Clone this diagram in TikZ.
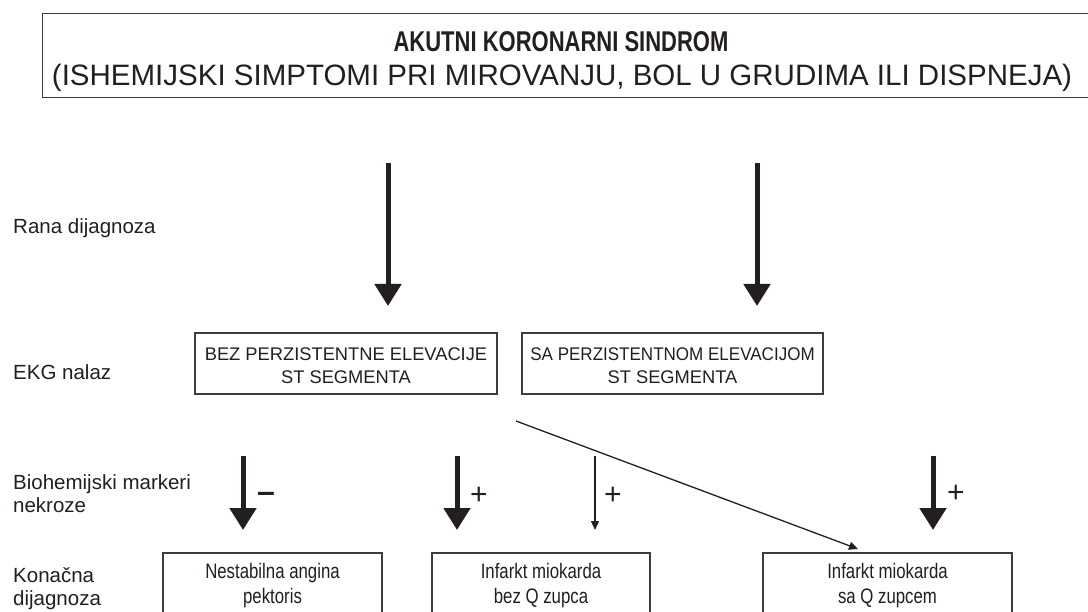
\documentclass[tikz,border=0pt]{standalone}
\usepackage{fontspec}
\setmainfont{Liberation Sans}
\usetikzlibrary{arrows.meta}
\definecolor{ink}{HTML}{231F20}
\definecolor{edge}{HTML}{3C3C3C}
\newcommand{\narrow}[1]{\scalebox{0.8}[1]{#1}}
\begin{document}
\begin{tikzpicture}[x=1pt,y=-1pt,
  box/.style={draw=edge,line width=1.3pt,inner sep=0pt,align=center,text=ink},
  ekgbox/.style={box,minimum width=302pt,minimum height=61pt},
  ekgtext/.style={text=ink,align=center,inner sep=0pt,font=\fontsize{18.3}{23}\selectfont},
  finbox/.style={box,minimum height=63pt},
  fintext/.style={text=ink,align=center,inner sep=0pt,font=\fontsize{21}{25}\selectfont},
  lbl/.style={anchor=west,align=left,text=ink,inner sep=0pt,font=\fontsize{20.5}{23}\selectfont},
  bigarrow/.style={draw=ink,line width=5pt,-{Triangle[width=26pt,length=22pt]}},
  thinarrow/.style={draw=ink,line width=1.3pt,-{Triangle[width=8pt,length=9pt]}},
  sgn/.style={text=ink,inner sep=0pt,font=\fontsize{30}{30}\selectfont}]
\useasboundingbox[fill=white] (0,0) rectangle (1088,612);
% top box
\node[box,minimum width=1053pt,minimum height=84pt,anchor=north west] (top) at (42,13) {};
\node[text=ink,font=\bfseries\fontsize{22}{26}\selectfont] (title) at (561,42) {\scalebox{1}[1.3]{AKUTNI KORONARNI SINDROM}};
\node[text=ink,font=\fontsize{29.5}{34}\selectfont] (sub) at (562,78) {(ISHEMIJSKI SIMPTOMI PRI MIROVANJU, BOL U GRUDIMA ILI DISPNEJA)};
% row labels
\node[lbl] (l1) at (13,228) {Rana dijagnoza};
\node[lbl] (l2) at (13,372) {EKG nalaz};
\node[lbl] (l3) at (13,494) {Biohemijski markeri\\nekroze};
\node[lbl] (l4) at (13,589) {Konačna\\dijagnoza};
% EKG boxes
\node[ekgbox] (ekg1) at (346,363.5) {};
\node[ekgbox,minimum width=301pt] (ekg2) at (672.5,363.5) {};
\node[ekgtext] (e1) at (ekg1.center) [yshift=-2pt] {BEZ PERZISTENTNE ELEVACIJE\\ST SEGMENTA};
\node[ekgtext] (e2) at (ekg2.center) [yshift=-2pt] {\scalebox{0.93}[1]{SA PERZISTENTNOM ELEVACIJOM}\\ST SEGMENTA};
% final boxes
\node[finbox,minimum width=219pt] (f1) at (272.5,584.5) {};
\node[finbox,minimum width=218pt] (f2) at (541,584.5) {};
\node[finbox,minimum width=249pt] (f3) at (887.5,584.5) {};
\node[fintext] (t1) at (f1.center) [yshift=-1.5pt] {\narrow{Nestabilna angina}\\\narrow{pektoris}};
\node[fintext] (t2) at (f2.center) [yshift=-1.5pt] {\narrow{Infarkt miokarda}\\\narrow{bez Q zupca}};
\node[fintext] (t3) at (f3.center) [yshift=-1.5pt] {\narrow{Infarkt miokarda}\\\narrow{sa Q zupcem}};
% arrow end points
\coordinate (a1s) at (388,163); \coordinate (a1e) at (388,306);
\coordinate (a2s) at (757,163); \coordinate (a2e) at (757,306);
\coordinate (b1s) at (243,456); \coordinate (b1e) at (243,530);
\coordinate (b2s) at (457,456); \coordinate (b2e) at (457,530);
\coordinate (b3s) at (595,456); \coordinate (b3e) at (595,530);
\coordinate (b4s) at (933,456); \coordinate (b4e) at (933,530);
\coordinate (ds) at (516,421); \coordinate (de) at (858,549);
\draw[bigarrow] (a1s) -- (a1e);
\draw[bigarrow] (a2s) -- (a2e);
\draw[bigarrow] (b1s) -- (b1e);
\draw[bigarrow] (b2s) -- (b2e);
\draw[thinarrow] (b3s) -- (b3e);
\draw[bigarrow] (b4s) -- (b4e);
\draw[thinarrow] (ds) -- (de);
% signs
\node[sgn,font=\bfseries\fontsize{32}{32}\selectfont] (m1) at (266,497) {–};
\node[sgn] (p1) at (479,496) {+};
\node[sgn] (p2) at (613,496) {+};
\node[sgn] (p3) at (956,494) {+};
\end{tikzpicture}
\end{document}
